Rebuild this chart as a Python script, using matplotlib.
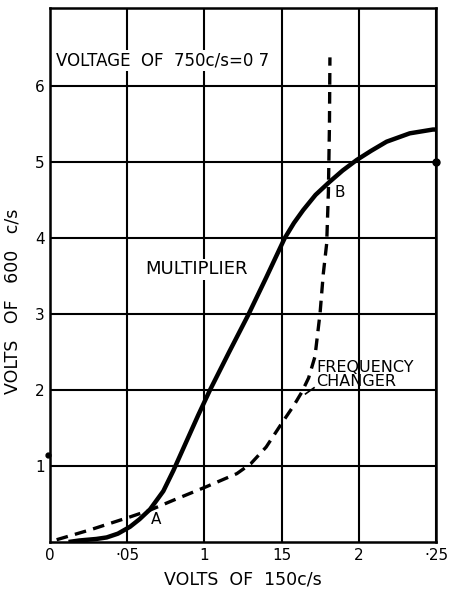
import numpy as np
import matplotlib.pyplot as plt

# curves
mult_x = [0.012, 0.019, 0.030, 0.0367, 0.044, 0.0518, 0.058, 0.0648, 0.0734, 0.0799, 0.0885,
          0.0960, 0.1036, 0.1160, 0.1284, 0.1400, 0.152, 0.158, 0.164, 0.172, 0.181,
          0.1895, 0.1987, 0.208, 0.218, 0.233, 0.248, 0.25]
mult_y = [0.0, 0.02, 0.04, 0.06, 0.11, 0.20, 0.30, 0.43, 0.67, 0.94, 1.33,
          1.67, 2.0, 2.5, 2.99, 3.48, 4.0, 4.2, 4.37, 4.57, 4.74,
          4.89, 5.03, 5.15, 5.27, 5.38, 5.43, 5.43]

freq_x = [0.0043, 0.026, 0.0518, 0.0648, 0.0799, 0.1015, 0.121, 0.130, 0.140, 0.150,
          0.158, 0.163, 0.1675, 0.1716, 0.1749, 0.177, 0.1792, 0.1803, 0.1810, 0.1813]
freq_y = [0.03, 0.16, 0.33, 0.42, 0.55, 0.73, 0.90, 1.03, 1.25, 1.56,
          1.80, 1.97, 2.16, 2.44, 3.01, 3.53, 3.93, 4.6, 5.5, 6.38]

x_ticks = [0, 0.05, 0.10, 0.15, 0.20, 0.25]
x_labels = ["0", "·05", "1", "15", "2", "·25"]
y_ticks = [1, 2, 3, 4, 5, 6]
y_labels = ["1", "2", "3", "4", "5", "6"]

plt.rcParams['font.family'] = ['DejaVu Sans']

fig = plt.figure(figsize=(4.51, 5.91), dpi=100)
ax = fig.add_axes([50 / 451, 49 / 591, 386 / 451, 534 / 591])

ax.set_xlim(0, 0.25)
ax.set_ylim(0, 7.03)
ax.set_xticks(x_ticks)
ax.set_xticklabels(x_labels, fontsize=11)
ax.set_yticks(y_ticks)
ax.set_yticklabels(y_labels, fontsize=11)
ax.tick_params(length=0, pad=4)
ax.grid(True, color="black", lw=1.5)
ax.set_axisbelow(True)
for s in ax.spines.values():
    s.set_linewidth(1.8)

ax.plot(mult_x, mult_y, color="black", lw=3.2, solid_capstyle="butt",
        solid_joinstyle="round")
ax.plot(freq_x, freq_y, color="black", lw=2.4, dashes=(3.5, 2.2))

ax.text(0.004, 6.34, "VOLTAGE  OF  750c/s=0 7", fontsize=12, va="center", ha="left",
        bbox=dict(facecolor="white", edgecolor="none", pad=1))
ax.text(0.062, 3.59, "MULTIPLIER", fontsize=13, va="center", ha="left",
        bbox=dict(facecolor="white", edgecolor="none", pad=1))
ax.text(0.1725, 2.2, "FREQUENCY\nCHANGER", fontsize=11.5, va="center", ha="left",
        linespacing=0.9)
ax.plot([0.228, 0.239], [2.0, 2.0], color="black", lw=1.2)
ax.plot([0.1655, 0.171], [1.95, 2.03], color="black", lw=1.2)
ax.text(0.0655, 0.3, "A", fontsize=11, va="center", ha="left")
ax.text(0.1845, 4.6, "B", fontsize=11, va="center", ha="left")

ax.plot([0.25], [5.0], "o", color="black", ms=5, clip_on=False)
ax.plot([-0.0015], [1.14], "o", color="black", ms=3.5, clip_on=False)

ax.set_xlabel("VOLTS  OF  150c/s", fontsize=12.5, labelpad=6)
ax.set_ylabel("VOLTS   OF   600   c/s", fontsize=12.5)
ax.yaxis.set_label_coords(-0.073, 0.45)

fig.savefig("out.png", dpi=100)
